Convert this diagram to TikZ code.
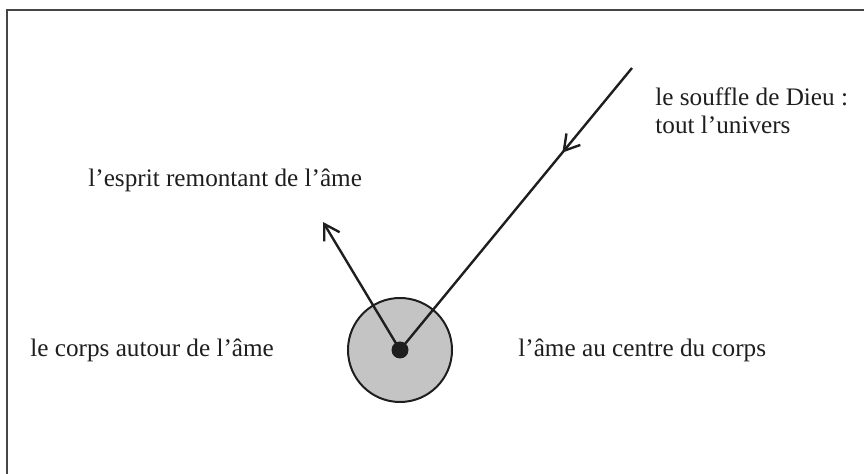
\documentclass[tikz,border=0pt]{standalone}
\usepackage{fontspec}
\setmainfont{Liberation Serif}
\usetikzlibrary{arrows.meta, positioning, decorations.markings}
\definecolor{DG}{RGB}{30,30,30}
\definecolor{FG}{RGB}{196,196,196}
\definecolor{MG}{RGB}{70,70,70}

\begin{document}
\begin{tikzpicture}[x=0.5pt, y=-0.5pt,
  label/.style={font=\fontsize{12.6}{14}\selectfont, text=DG, inner sep=0pt},
  trait/.style={DG, line width=1.2pt},
  pointe/.style={-{Straight Barb[length=7.5pt,width=9pt,line width=1.2pt]}}]
\useasboundingbox (0,0) rectangle (864,474);

% cadre
\draw[MG, line width=1pt] (7,474) -- (7,10) -- (864,10);

% le corps et l'ame
\node[circle, draw=DG, fill=FG, line width=1pt, minimum size=52pt, inner sep=0pt]
  (corps) at (400,350) {};
\node[circle, fill=DG, minimum size=8.5pt, inner sep=0pt] (ame) at (400,350) {};

% le souffle qui descend
\coordinate (dieu) at (632,68);
\draw[trait, postaction={decorate}, decoration={markings,
  mark=at position 0.3 with {\arrow{Straight Barb[length=7.5pt,width=9pt,line width=1.2pt]}}}]
  (dieu) -- (ame.center);

% l'esprit qui remonte
\coordinate (haut) at (323,222);
\draw[trait, pointe] (ame.center) -- (haut);

\node[label, anchor=west, align=left] (souffle) at (655,111)
  {le souffle de Dieu :\\tout l’univers};
\node[label, anchor=west] (esprit) at (88,180) {l’esprit remontant de l’âme};
\node[label, anchor=west] (autour) at (30,350) {le corps autour de l’âme};
\node[label, anchor=west] (centre) at (518,350) {l’âme au centre du corps};
\end{tikzpicture}
\end{document}
